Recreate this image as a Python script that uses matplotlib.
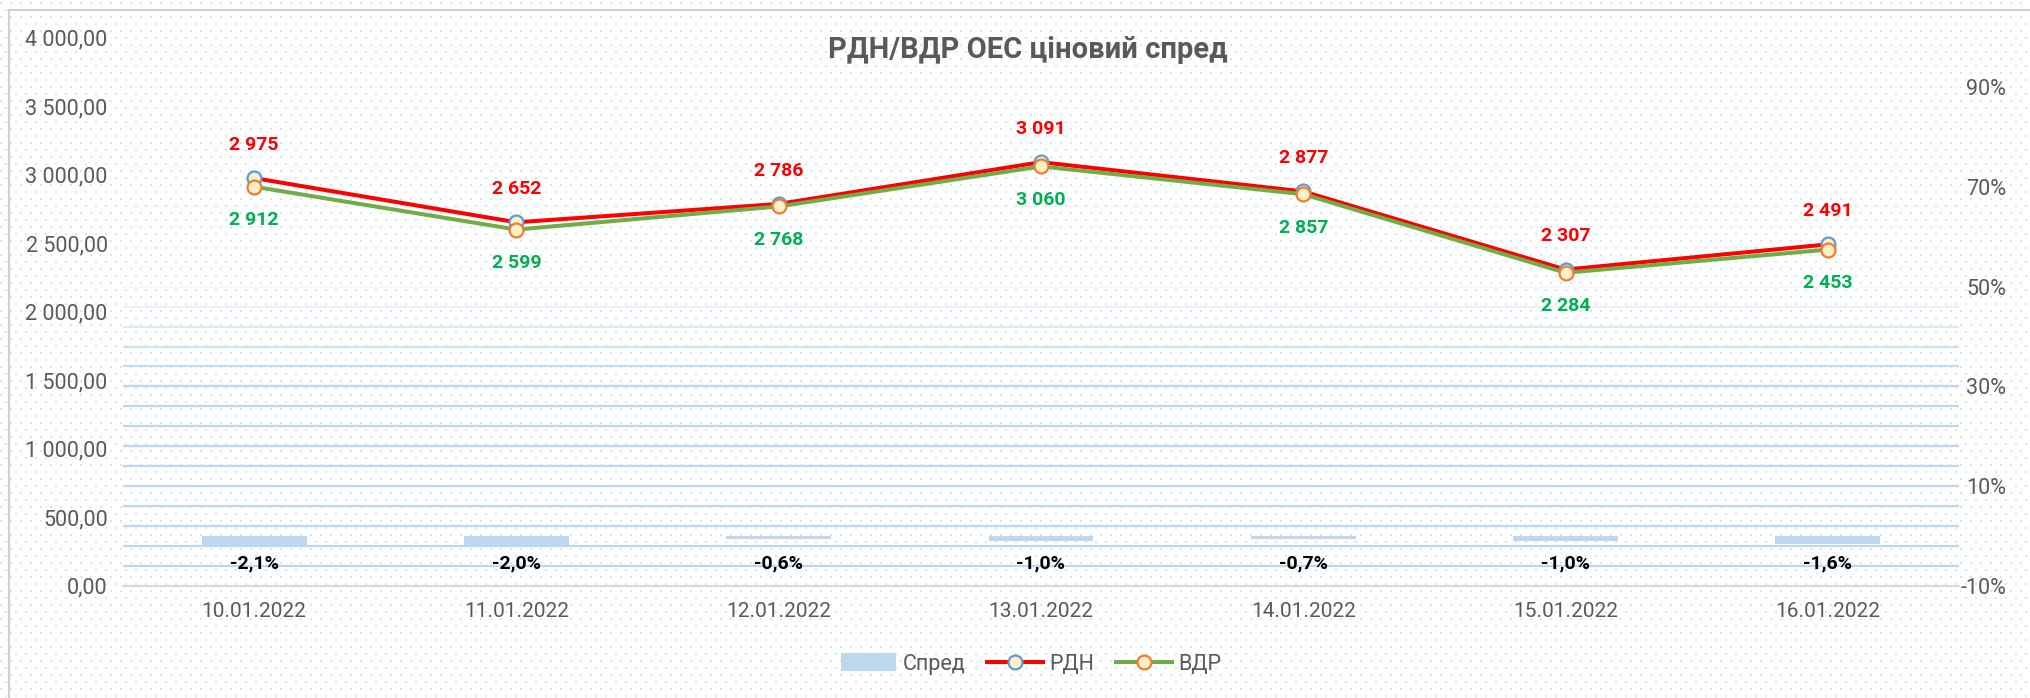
import numpy as np
import matplotlib
matplotlib.use("Agg")
import matplotlib.pyplot as plt
from matplotlib.patches import Rectangle, Patch
from matplotlib.lines import Line2D
from matplotlib.ticker import FuncFormatter, FixedLocator

plt.rcParams['font.family'] = ['Roboto', 'DejaVu Sans']

# ---- data ----
dates = ['10.01.2022', '11.01.2022', '12.01.2022', '13.01.2022',
         '14.01.2022', '15.01.2022', '16.01.2022']
rdn = [2975, 2652, 2786, 3091, 2877, 2307, 2491]
vdr = [2912, 2599, 2768, 3060, 2857, 2284, 2453]
spread = [-0.021, -0.020, -0.006, -0.010, -0.007, -0.010, -0.016]

title = 'РДН/ВДР ОЕС ціновий спред'
left_ticks = [0, 500, 1000, 1500, 2000, 2500, 3000, 3500, 4000]
right_ticks = [-0.10, 0.10, 0.30, 0.50, 0.70, 0.90]

GREY = '#595959'
RED = '#FF0000'
GREEN_LINE = '#70AD47'
GREEN_TXT = '#00B050'
BAR = '#BDD7EE'
CREAM = '#FFF0C8'

W, H = 2031, 698
fig = plt.figure(figsize=(W / 100, H / 100), dpi=100)
fig.patch.set_facecolor('white')

# dotted background texture
bg = np.ones((H, W, 3))
dot = np.array([0.85, 0.90, 0.97])
for r, yy in enumerate(range(2, H, 7)):
    off = 5 if r % 2 else 0
    for xx in range(off, W, 10):
        bg[yy:yy + 2, xx:xx + 2] = dot
fig.figimage(bg, 0, 0, zorder=-5)

# chart border
fig.add_artist(Rectangle((9 / W, -0.1), 1.2, 1.1 - 10 / H, transform=fig.transFigure,
                         fill=False, edgecolor='#D0D0D0', lw=1.5, zorder=-4))

ax = fig.add_axes([123 / W, 112.3 / H, (1959 - 123) / W, (585.7 - 37.6) / H])
ax2 = ax.twinx()
for a in (ax, ax2):
    a.patch.set_alpha(0)
    for s in a.spines.values():
        s.set_visible(False)
ax.spines['bottom'].set_visible(True)
ax.spines['bottom'].set_color('#D9D9D9')
ax.spines['bottom'].set_linewidth(1.6)

x = np.arange(len(dates))
ax.set_xlim(-0.5, len(dates) - 0.5)
ax.set_ylim(0, 4000)
ax2.set_ylim(-0.10, 1.00)

# horizontal stripes (fade out towards the top)
for g in np.arange(-0.06, 1.0, 0.04):
    if g < 0.31:
        al = 1.0
    elif g < 0.51:
        al = 1.0 - (g - 0.31) / 0.20 * 0.9
    else:
        al = 0.08
    ax2.axhline(g, color=BAR, lw=1.6, alpha=al, zorder=1)

# spread bars
ax2.bar(x, spread, width=0.4, color=BAR, zorder=2)
for xi, v in zip(x, spread):
    ax2.text(xi, -0.055, f"{v * 100:.1f}%".replace('.', ','), ha='center', va='center',
             fontsize=14, fontweight='bold', color='black', zorder=3)

# lines go on top of the twin axes
ax.set_zorder(ax2.get_zorder() + 1)
ax.plot(x, rdn, color=RED, lw=2.9, marker='o', ms=10, mfc=CREAM, mec='#5B9BD5', mew=1.6,
        solid_capstyle='round', zorder=4)
ax.plot(x, vdr, color=GREEN_LINE, lw=2.9, marker='o', ms=10, mfc=CREAM, mec='#ED7D31', mew=1.6,
        solid_capstyle='round', zorder=5)
for xi, v in zip(x, rdn):
    ax.annotate(f"{v:,.0f}".replace(',', ' '), (xi, v), xytext=(0, 24), textcoords='offset points',
                ha='center', va='center', fontsize=14, fontweight='bold', color=RED)
for xi, v in zip(x, vdr):
    ax.annotate(f"{v:,.0f}".replace(',', ' '), (xi, v), xytext=(0, -24), textcoords='offset points',
                ha='center', va='center', fontsize=14, fontweight='bold', color=GREEN_TXT)

# axes ticks
ax.set_xticks(x)
ax.set_xticklabels(dates)
ax.yaxis.set_major_locator(FixedLocator(left_ticks))
ax.yaxis.set_major_formatter(FuncFormatter(lambda v, p: f"{v:,.2f}".replace(',', ' ').replace('.', ',')))
ax2.yaxis.set_major_locator(FixedLocator(right_ticks))
ax2.yaxis.set_major_formatter(FuncFormatter(lambda v, p: f"{round(v * 100):d}%"))
ax.tick_params(axis='x', length=0, pad=12, labelsize=15, labelcolor=GREY)
ax.tick_params(axis='y', length=0, pad=11, labelsize=15.5, labelcolor=GREY)
ax2.tick_params(axis='y', length=0, pad=34, labelsize=15.5, labelcolor=GREY)
for lb in ax2.get_yticklabels():
    lb.set_ha('right')

fig.text(1028 / W, 1 - 50 / H, title, ha='center', va='center', fontsize=21,
         fontweight='bold', color=GREY)

handles = [Patch(facecolor=BAR, edgecolor='none'),
           Line2D([], [], color=RED, lw=2.9, marker='o', ms=10, mfc=CREAM, mec='#5B9BD5', mew=1.6),
           Line2D([], [], color=GREEN_LINE, lw=2.9, marker='o', ms=10, mfc=CREAM, mec='#ED7D31', mew=1.6)]
fig.legend(handles, ['Спред', 'РДН', 'ВДР'], loc='center', bbox_to_anchor=(1031 / W, 34 / H),
           ncol=3, frameon=False, fontsize=15.5, labelcolor=GREY, handlelength=2.6,
           handleheight=0.9, handletextpad=0.3, columnspacing=1.0)

fig.savefig('out.png', dpi=100)
